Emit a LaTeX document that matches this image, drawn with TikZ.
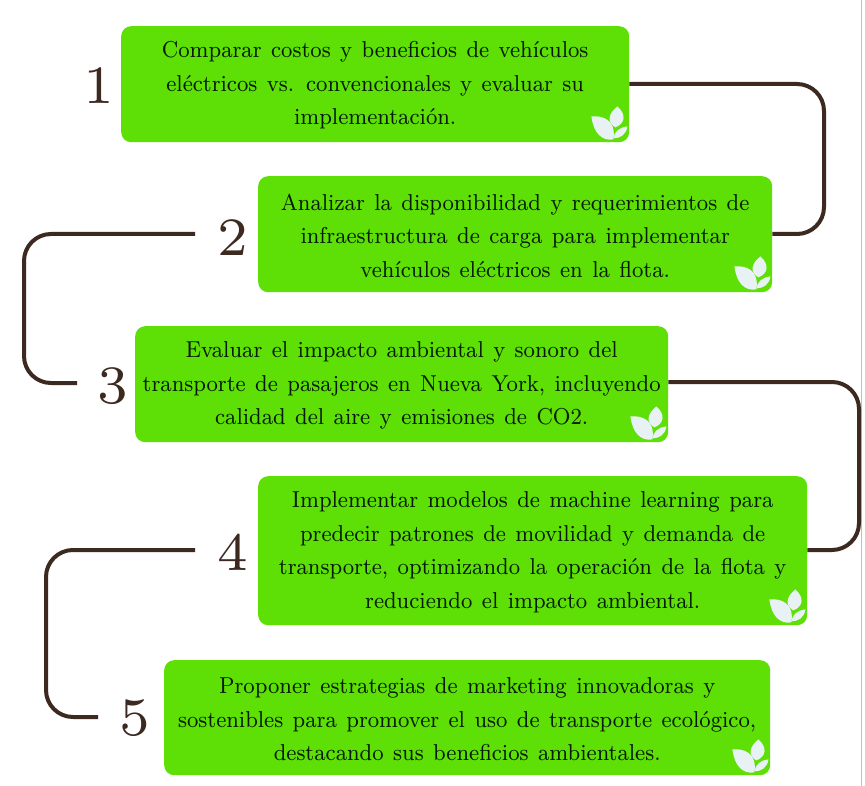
\documentclass[tikz,border=0pt]{standalone}
\usepackage{fontspec}
\setmainfont{Latin Modern Roman}
\newfontfamily\bodyface[WordSpace=1.25,FakeStretch=0.93]{lmroman8-regular.otf}
\newfontfamily\numface{lmroman7-regular.otf}
\definecolor{boxgreen}{HTML}{5EE007}
\definecolor{linebrown}{HTML}{3C2A21}
\definecolor{leafwhite}{HTML}{E8F2F4}
\newcommand{\boxfont}{\bodyface\fontsize{23pt}{33.5pt}\selectfont}
\newcommand{\numfont}{\numface\fontsize{54pt}{54pt}\selectfont}
\newcommand{\topstrut}{\rule{0pt}{19pt}}
\tikzset{
  stepbox/.style={fill=boxgreen,rounded corners=10pt,minimum width=#1,inner sep=0pt,align=center,anchor=north west,text=black!90!green,font=\boxfont},
  numlabel/.style={font=\numfont,text=linebrown,inner sep=0pt},
  link/.style={draw=linebrown,line width=4pt,rounded corners=27pt},
  leafmark/.pic={
    \fill[leafwhite] (-38,-26) .. controls (-27,-27) and (-13,-23) .. (-16,-3) .. controls (-28,-1) and (-36,-10) .. (-38,-26) -- cycle;
    \fill[leafwhite] (-12,-36) .. controls (-3,-28) and (-4,-19) .. (-14,-15) .. controls (-23,-20) and (-21,-29) .. (-12,-36) -- cycle;
    \fill[leafwhite] (-2,-16) .. controls (-3,-8) and (-9,-4) .. (-16,-4) .. controls (-15,-11) and (-10,-15) .. (-2,-16) -- cycle;
  }
}
\begin{document}
\begin{tikzpicture}[x=1pt,y=-1pt]
\useasboundingbox (0,0) rectangle (865,786);
\fill[white] (0,0) rectangle (865,786);
\draw[black!25,line width=1pt] (861.5,0) -- (861.5,786);
\node[stepbox=508pt,minimum height=116pt] (b1) at (121,26) {\topstrut Comparar costos y beneficios de vehículos\\eléctricos vs. convencionales y evaluar su\\implementación.};
\node[stepbox=514pt,minimum height=116pt] (b2) at (258,176) {\topstrut Analizar la disponibilidad y requerimientos de\\infraestructura de carga para implementar\\vehículos eléctricos en la flota.};
\node[stepbox=533pt,minimum height=116pt] (b3) at (135,326) {\topstrut Evaluar el impacto ambiental y sonoro del\\transporte de pasajeros en Nueva York, incluyendo\\calidad del aire y emisiones de CO2.};
\node[stepbox=549pt,minimum height=149pt] (b4) at (258,476) {\topstrut Implementar modelos de machine learning para\\predecir patrones de movilidad y demanda de\\transporte, optimizando la operación de la flota y\\reduciendo el impacto ambiental.};
\node[stepbox=606pt,minimum height=115pt] (b5) at (164,660) {\topstrut Proponer estrategias de marketing innovadoras y\\sostenibles para promover el uso de transporte ecológico,\\destacando sus beneficios ambientales.};
\node[numlabel] (n1) at (98.5,86) {1};
\node[numlabel] (n2) at (232.5,238) {2};
\node[numlabel] (n3) at (112.5,386) {3};
\node[numlabel] (n4) at (232.5,552) {4};
\node[numlabel] (n5) at (135,718) {5};
\pic at (b1.south east) {leafmark};
\pic at (b2.south east) {leafmark};
\pic at (b3.south east) {leafmark};
\pic at (b4.south east) {leafmark};
\pic at (b5.south east) {leafmark};
\coordinate (c2) at (195,234);
\coordinate (c3) at (77,383);
\coordinate (c4) at (195,550);
\coordinate (c5) at (98,717);
\draw[link] (b1.east |- 0,84) -- (824,84) -- (824,234) -- (b2.east |- 0,234);
\draw[link] (c2) -- (24,234) -- (24,383) -- (c3);
\draw[link] (b3.east |- 0,382) -- (859,382) -- (859,550) -- (b4.east |- 0,550);
\draw[link] (c4) -- (46,550) -- (46,717) -- (c5);
\end{tikzpicture}
\end{document}
